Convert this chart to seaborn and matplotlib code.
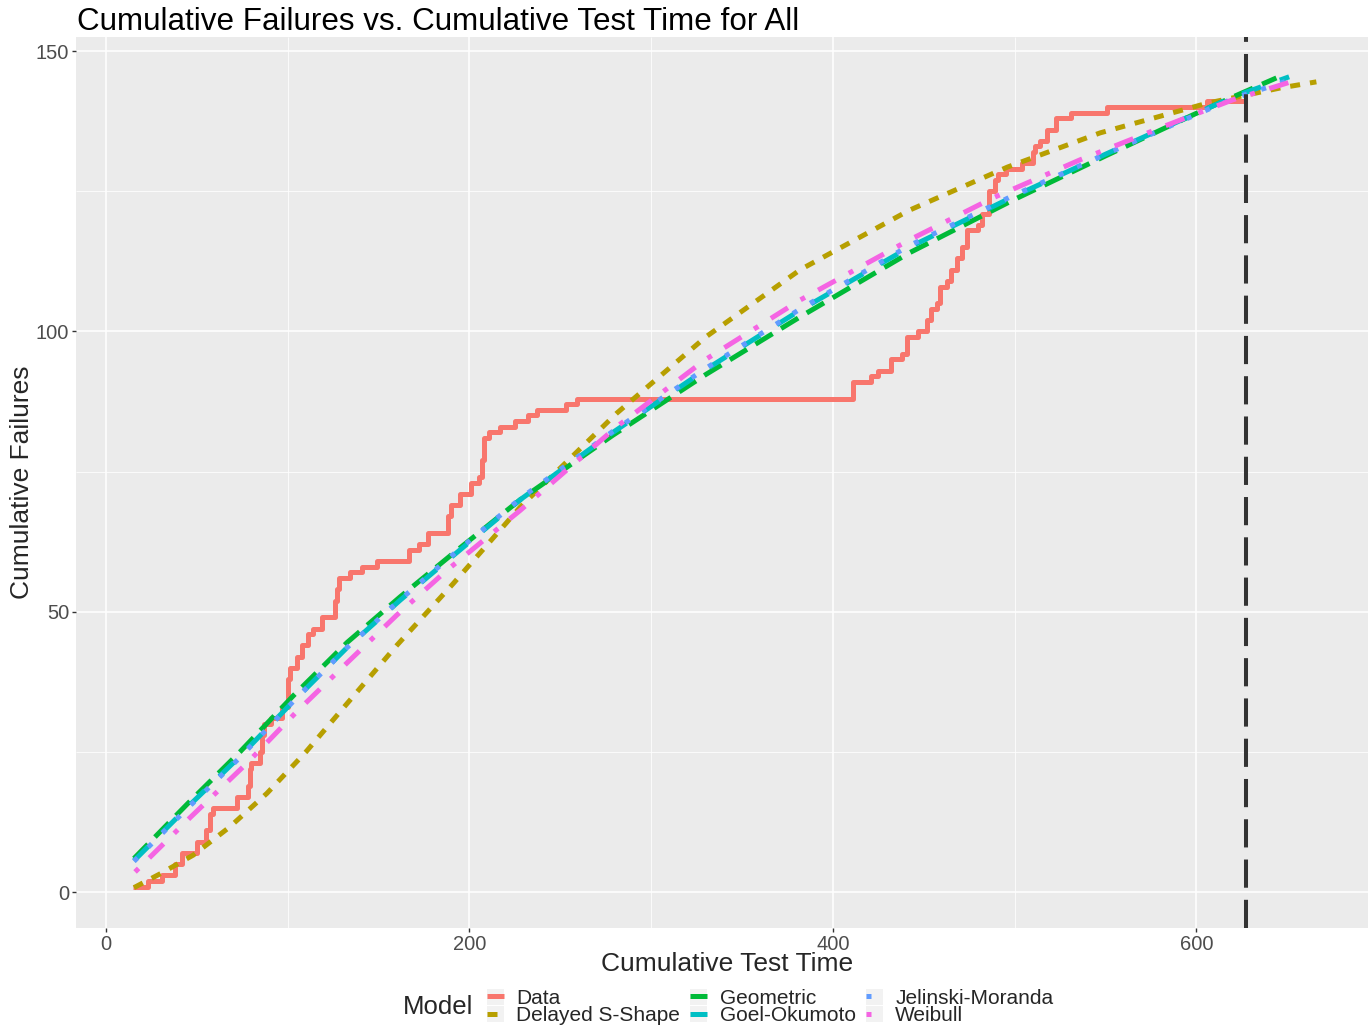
import numpy as np
import pandas as pd
import matplotlib
matplotlib.use("Agg")
import matplotlib.pyplot as plt
import seaborn as sns
from matplotlib.lines import Line2D
from matplotlib.patches import Rectangle
from matplotlib.legend_handler import HandlerLine2D

# ---------------- data ----------------
data_time = [15, 23, 31, 38, 42, 50, 55, 57, 59, 72, 78, 79, 80, 85, 86, 87, 91, 97, 100, 101,
             105, 108, 111, 114, 119, 126, 127, 128, 134, 141, 149, 167, 172, 177, 188, 190, 195, 201, 205, 207,
             208, 211, 217, 225, 232, 237, 253, 259, 411, 421, 425, 432, 438, 441, 447, 452, 454, 457, 459, 463,
             465, 468, 471, 474, 480, 482, 486, 489, 491, 495, 504, 510, 511, 514, 518, 523, 531, 551, 606, 626]
data_fail = [1, 2, 3, 5, 7, 9, 11, 14, 15, 17, 19, 22, 23, 25, 28, 30, 31, 33, 38, 40,
             42, 44, 46, 47, 49, 52, 54, 56, 57, 58, 59, 61, 62, 64, 67, 69, 71, 73, 74, 77,
             81, 82, 83, 84, 85, 86, 87, 88, 91, 92, 93, 95, 96, 99, 100, 102, 104, 105, 108, 109,
             111, 113, 115, 118, 119, 121, 125, 127, 128, 129, 130, 132, 133, 134, 136, 138, 139, 140, 141, 141]

ds_time = [15.4, 30, 48, 68, 88.5, 110, 131, 160, 191, 228, 281, 330, 382, 442, 496, 547, 606, 646, 666]
ds_fail = [0.8, 3.3, 6.6, 11.6, 17.6, 25.0, 33.0, 44.0, 55.0, 68.7, 85.4, 99.0, 111.0, 121.6, 129.3, 135.4, 140.7, 143.4, 144.5]

geo_time = [15.4, 45, 73.7, 103, 132.6, 162, 191, 228, 279, 330, 382, 442, 499, 550, 598, 620, 644]
geo_fail = [6.0, 15.8, 25.0, 35.0, 44.5, 52.7, 60.4, 70.0, 81.5, 92.3, 102.6, 114.0, 123.4, 131.3, 138.6, 141.8, 145.2]

go_time = [15.4, 45, 73.7, 103, 132.6, 162, 191, 228, 279, 330, 382, 442, 499, 550, 598, 620, 651]
go_fail = [5.6, 15.2, 24.2, 34.0, 43.6, 52.1, 60.0, 70.0, 82.0, 93.2, 103.8, 115.0, 124.0, 131.6, 138.6, 141.8, 145.4]

jm_time = [15.4, 45, 73.7, 103, 132.6, 162, 191, 228, 279, 330, 382, 442, 499, 550, 598, 620, 655]
jm_fail = [5.5, 15.0, 24.0, 34.0, 43.6, 52.2, 60.2, 70.2, 82.2, 93.4, 104.0, 115.3, 124.2, 131.6, 138.4, 141.5, 145.2]

wb_time = [16, 46, 77.6, 105, 133, 160, 187.6, 228, 281, 330, 382, 442, 488, 536, 584, 620, 655]
wb_fail = [3.6, 13.2, 23.0, 32.2, 41.0, 49.4, 57.4, 68.1, 83.0, 95.0, 105.6, 116.3, 123.8, 130.6, 136.8, 141.3, 144.8]

end_time = 627

models = ["Data", "Delayed S-Shape", "Geometric", "Goel-Okumoto", "Jelinski-Moranda", "Weibull"]
colors = {"Data": "#F8766D", "Delayed S-Shape": "#B79F00", "Geometric": "#00BA38",
          "Goel-Okumoto": "#00BFC4", "Jelinski-Moranda": "#619CFF", "Weibull": "#F564E3"}
dash_map = {"Data": "", "Delayed S-Shape": (2, 2), "Geometric": (4, 2), "Goel-Okumoto": (4, 4),
            "Jelinski-Moranda": (1, 3), "Weibull": (1, 3, 4, 3)}

x_ticks = [0, 200, 400, 600]
y_ticks = [0, 50, 100, 150]

# ---------------- styling ----------------
sns.set_theme(style="darkgrid")
plt.rcParams.update({
    "lines.solid_capstyle": "butt",
    "lines.dash_capstyle": "butt",
    "axes.facecolor": "#EBEBEB",
})
plt.rcParams["font.family"] = ["Liberation Sans", "DejaVu Sans"]

W, H = 1368, 1026
fig = plt.figure(figsize=(W / 100, H / 100), dpi=100)
fig.patch.set_facecolor("white")
ax = fig.add_axes([76 / W, 1 - 928 / H, 1 - 76 / W, (928 - 37) / H])
ax.set_facecolor("#EBEBEB")
LW = 3.6

df_data = pd.DataFrame({"time": data_time, "failures": data_fail, "Model": "Data"})
frames = []
for name, t, f in [("Delayed S-Shape", ds_time, ds_fail), ("Geometric", geo_time, geo_fail),
                   ("Goel-Okumoto", go_time, go_fail), ("Jelinski-Moranda", jm_time, jm_fail),
                   ("Weibull", wb_time, wb_fail)]:
    frames.append(pd.DataFrame({"time": t, "failures": f, "Model": name}))
df_mod = pd.concat(frames, ignore_index=True)

sns.lineplot(data=df_data, x="time", y="failures", color=colors["Data"], drawstyle="steps-post",
             lw=LW, ax=ax, legend=False, estimator=None)
sns.lineplot(data=df_mod, x="time", y="failures", hue="Model", style="Model",
             hue_order=models[1:], style_order=models[1:],
             palette={k: colors[k] for k in models[1:]},
             dashes={k: dash_map[k] for k in models[1:]}, lw=LW, ax=ax, legend=False, estimator=None)

ax.axvline(end_time, color="#333333", lw=2.9, linestyle=(0, (7, 3)))

ax.set_xlim(-16.5, 694.4)
ax.set_ylim(-6.4, 152.5)
ax.set_xticks(x_ticks)
ax.set_yticks(y_ticks)
ax.set_xticks([100, 300, 500], minor=True)
ax.set_yticks([25, 75, 125], minor=True)
ax.grid(which="major", color="white", lw=1.1)
ax.grid(which="minor", color="white", lw=0.55)
for s in ax.spines.values():
    s.set_visible(False)
ax.tick_params(which="major", length=2.8, width=1.0, color="#333333", labelcolor="#4D4D4D",
               labelsize=14.5, pad=2, bottom=True, left=True)
ax.tick_params(which="minor", length=0)
ax.set_xlabel("")
ax.set_ylabel("")

fig.text(77 / W, 1 - 30 / H, "Cumulative Failures vs. Cumulative Test Time for All",
         fontsize=22.6, va="baseline", ha="left", color="black")
fig.text(727 / W, 1 - 964 / H, "Cumulative Test Time", fontsize=19, va="center", ha="center")
fig.text(22 / W, 1 - 482 / H, "Cumulative Failures", fontsize=19, va="center", ha="center",
         rotation=90)
fig.text(403 / W, 1 - 1007 / H, "Model", fontsize=18.5, va="center", ha="left")


class KeyHandler(HandlerLine2D):
    def create_artists(self, legend, orig_handle, xdescent, ydescent, width, height, fontsize, trans):
        rect = Rectangle((-xdescent, -ydescent), width, height, facecolor="#F2F2F2",
                         edgecolor="none", transform=trans)
        arts = super().create_artists(legend, orig_handle, xdescent, ydescent, width, height,
                                      fontsize, trans)
        return [rect] + list(arts)


handles = []
for m in models:
    d = dash_map[m]
    if d == "":
        h = Line2D([], [], color=colors[m], lw=LW, linestyle="-")
    else:
        h = Line2D([], [], color=colors[m], lw=LW, linestyle=(0, d))
    handles.append(h)

fig.legend(handles, models, ncol=3, loc="center left", bbox_to_anchor=(487 / W, 1 - 1007 / H),
           frameon=False, fontsize=15, handlelength=0.8, handleheight=0.8, handletextpad=0.6,
           columnspacing=0.5, labelspacing=-0.08, borderpad=0, borderaxespad=0,
           handler_map={Line2D: KeyHandler()})

fig.savefig("out.png", dpi=100)
